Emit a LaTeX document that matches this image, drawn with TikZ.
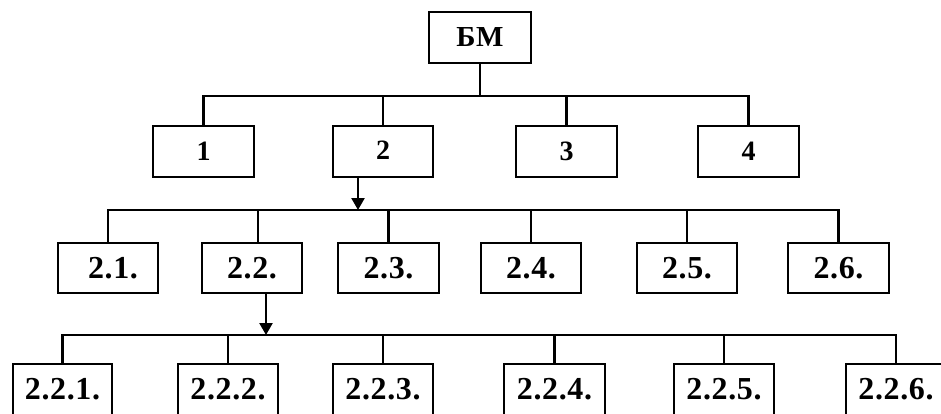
\documentclass[tikz,border=0pt]{standalone}
\usepackage{fontspec}
\setmainfont{Liberation Serif}
\newfontfamily\labfont{Liberation Serif}[LetterSpace=2]
\usetikzlibrary{arrows.meta}
\begin{document}
\begin{tikzpicture}[x=1pt,y=-1pt,
  box/.style={draw=black,line width=2.4pt,fill=white,inner sep=0pt,minimum width=101pt,minimum height=51pt,font=\labfont\bfseries\fontsize{32}{32}\selectfont},
  topbox/.style={box,font=\labfont\bfseries\fontsize{28}{28}\selectfont},
  conn/.style={line width=2.4pt},
  arr/.style={line width=2.4pt,-{Triangle[length=12pt,width=13pt]}}]
\useasboundingbox[fill=white] (0,0) rectangle (941,414);
% level 0
\node[topbox,minimum width=102pt,font=\labfont\bfseries\fontsize{29}{29}\selectfont] (bm) at (480,37.5) {БМ};
% level 1
\node[topbox] (n1) at (203.5,151.5) {1};
\node[topbox,minimum width=100pt] (n2) at (383,151.5) {\raisebox{2pt}{2}};
\node[topbox] (n3) at (566.5,151.5) {\raisebox{-2pt}{3}};
\node[topbox] (n4) at (748.5,151.5) {\raisebox{-2pt}{4}};
% level 2
\node[box,minimum width=100pt,minimum height=50pt] (n21) at (108,268) {\hspace{10pt}2.1.};
\node[box,minimum width=100pt,minimum height=50pt] (n22) at (252,268) {2.2.};
\node[box,minimum height=50pt] (n23) at (388.5,268) {2.3.};
\node[box,minimum width=100pt,minimum height=50pt] (n24) at (531,268) {2.4.};
\node[box,minimum width=100pt,minimum height=50pt] (n25) at (687,268) {2.5.};
\node[box,minimum height=50pt] (n26) at (838.5,268) {2.6.};
% level 3
\node[box,minimum width=99pt] (n221) at (62.5,389.5) {2.2.1.};
\node[box,minimum width=100pt] (n222) at (228,389.5) {2.2.2.};
\node[box,minimum width=100pt] (n223) at (383,389.5) {2.2.3.};
\node[box] (n224) at (554.5,389.5) {2.2.4.};
\node[box,minimum width=100pt] (n225) at (724,389.5) {2.2.5.};
\node[box,minimum width=100pt] (n226) at (896,389.5) {2.2.6.};
% bus levels
\coordinate (busA) at (0,96);
\coordinate (busB) at (0,210);
\coordinate (busC) at (0,335);
% level 0 -> 1
\draw[conn] (bm.south) -- (bm.south |- busA);
\draw[conn] (n1.north) -- (n1.north |- busA) -| (n4.north);
\draw[conn] (n2.north) -- (n2.north |- busA);
\draw[conn] (n3.north) -- (n3.north |- busA);
% level 1 -> 2
\draw[arr] ([xshift=-25pt]n2.south) -- ([xshift=-25pt]n2.south |- busB);
\draw[conn] (n21.north) -- (n21.north |- busB) -| (n26.north);
\draw[conn] ([xshift=6pt]n22.north) -- ([xshift=6pt]n22.north |- busB);
\draw[conn] (n23.north) -- (n23.north |- busB);
\draw[conn] (n24.north) -- (n24.north |- busB);
\draw[conn] (n25.north) -- (n25.north |- busB);
% level 2 -> 3
\draw[arr] ([xshift=14pt]n22.south) -- ([xshift=14pt]n22.south |- busC);
\draw[conn] (n221.north) -- (n221.north |- busC) -| (n226.north);
\draw[conn] (n222.north) -- (n222.north |- busC);
\draw[conn] (n223.north) -- (n223.north |- busC);
\draw[conn] (n224.north) -- (n224.north |- busC);
\draw[conn] (n225.north) -- (n225.north |- busC);
\end{tikzpicture}
\end{document}
